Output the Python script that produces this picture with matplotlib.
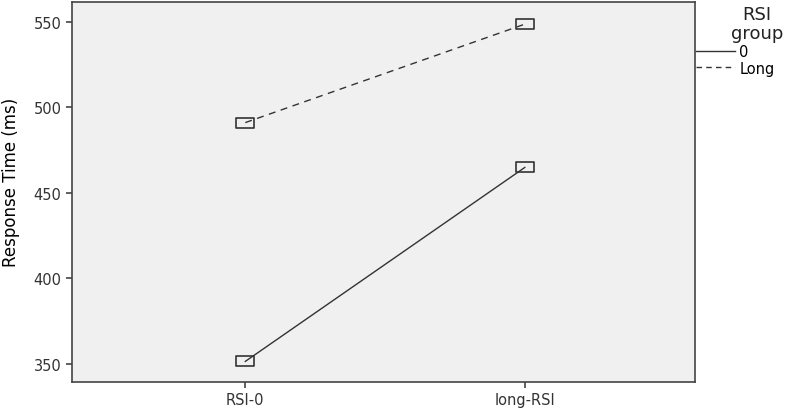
import matplotlib.pyplot as plt
from matplotlib.path import Path
from matplotlib.lines import Line2D

# condições e médias (ms)
conditions = ["RSI-0", "long-RSI"]
rt_group_0 = [351.5, 464.8]
rt_group_long = [491.0, 548.5]
group_labels = ["0", "Long"]

# marcador retangular (mais largo que alto)
rect = Path([(-1, -0.6), (1, -0.6), (1, 0.6), (-1, 0.6), (-1, -0.6)],
            [Path.MOVETO, Path.LINETO, Path.LINETO, Path.LINETO, Path.CLOSEPOLY])

fig = plt.figure(figsize=(7.87, 4.14), dpi=100)
ax = fig.add_axes([0.0915, 0.075, 0.792, 0.918])
ax.set_facecolor("#f0f0f0")

x = range(len(conditions))
ax.plot(x, rt_group_0, color="#333333", lw=1.0, linestyle="-",
        marker=rect, markersize=13, markerfacecolor="none",
        markeredgecolor="#333333", markeredgewidth=1.2)
ax.plot(x, rt_group_long, color="#333333", lw=1.0, linestyle=(0, (5, 4)),
        marker=rect, markersize=13, markerfacecolor="none",
        markeredgecolor="#333333", markeredgewidth=1.2)

ax.set_xlim(-0.62, 1.61)
ax.set_ylim(339.5, 561.5)
ax.set_xticks(list(x))
ax.set_xticklabels(conditions)
ax.set_yticks([350, 400, 450, 500, 550])

for s in ax.spines.values():
    s.set_color("#444444")
    s.set_linewidth(1.2)
ax.tick_params(axis="both", colors="#444444", labelsize=10.5, length=4, width=1.2)
for lab in ax.get_xticklabels() + ax.get_yticklabels():
    lab.set_color("#333333")

fig.text(0.014, 0.56, "Response Time (ms)", rotation=90, ha="center", va="center",
         fontsize=12, color="black")

# legenda fora do gráfico, título separado
fig.text(0.962, 0.985, "RSI\ngroup", ha="center", va="top", fontsize=13,
         linespacing=1.05, color="#222222")
handles = [Line2D([], [], color="#333333", lw=1.0, linestyle="-"),
           Line2D([], [], color="#333333", lw=1.0, linestyle=(0, (4, 3)))]
fig.legend(handles, group_labels, loc="upper left",
           bbox_to_anchor=(0.884, 0.891), frameon=False, fontsize=10.5,
           handlelength=2.7, handletextpad=0.3, labelspacing=0.1,
           borderaxespad=0, borderpad=0)

fig.savefig("out.png", dpi=100)
